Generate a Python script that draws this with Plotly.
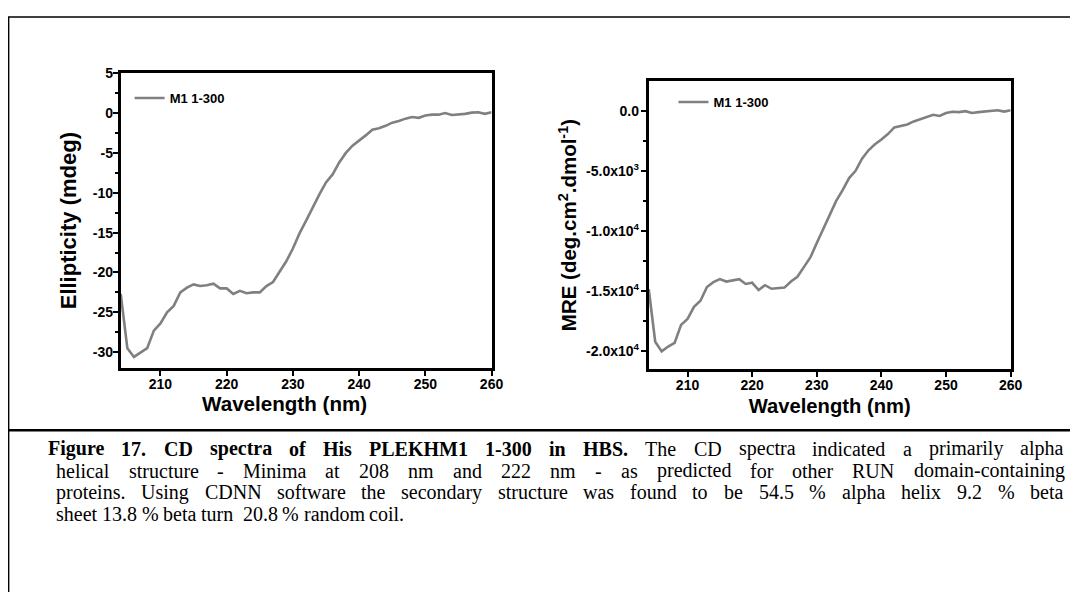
import plotly.graph_objects as go

# page body has an 8px default margin: lay the figure out in window coordinates
W, H = 1082, 592
OFF = 8
FW, FH = W - OFF, H - OFF

wavelength = list(range(204, 261))
ellipticity = [-22.7, -29.5, -30.6, -30.0, -29.5, -27.3, -26.4, -25.0, -24.2, -22.5,
               -21.9, -21.5, -21.7, -21.6, -21.4, -22.0, -22.0, -22.7, -22.3, -22.6,
               -22.5, -22.5, -21.7, -21.2, -19.9, -18.6, -17.0, -15.1, -13.5, -11.8,
               -10.2, -8.7, -7.7, -6.2, -5.0, -4.1, -3.5, -2.8, -2.1, -1.9,
               -1.6, -1.2, -1.0, -0.7, -0.5, -0.6, -0.3, -0.2, -0.2, 0.0,
               -0.25, -0.2, -0.1, 0.05, 0.1, -0.1, 0.1]
mre = [-14840, -19200, -20000, -19600, -19300, -17800, -17300, -16300, -15800, -14650,
       -14250, -14000, -14200, -14100, -14000, -14400, -14300, -14900, -14500, -14800,
       -14750, -14700, -14200, -13800, -13000, -12200, -11000, -9800, -8600, -7500,
       -6600, -5600, -5000, -4000, -3300, -2800, -2400, -1950, -1400, -1300,
       -1150, -900, -730, -500, -350, -450, -200, -100, -130, -50,
       -200, -130, -80, -30, 30, -80, 30]

series_name = "M1 1-300"
x_ticks = [210, 220, 230, 240, 250, 260]
ell_ticks = [5, 0, -5, -10, -15, -20, -25, -30]
ell_ticktext = ["5", "0", "-5", "-10", "-15", "-20", "-25", "-30"]
mre_ticks = [0, -5000, -10000, -15000, -20000]
mre_ticktext = ["0.0", "-5.0x10<sup>3</sup>", "-1.0x10<sup>4</sup>",
                "-1.5x10<sup>4</sup>", "-2.0x10<sup>4</sup>"]
x_title = "Wavelength (nm)"

caption_bold = "Figure 17. CD spectra of His PLEKHM1 1-300 in HBS."
caption_lines = [
    "The CD spectra indicated a primarily alpha",
    "helical structure - Minima at 208 nm and 222 nm - as predicted for other RUN domain-containing",
    "proteins. Using CDNN software the secondary structure was found to be 54.5 % alpha helix 9.2 % beta",
    "sheet 13.8 % beta turn  20.8 % random coil.",
]


def px(x):
    return (x - OFF) / FW


def py(y):
    return 1 - (y - OFF) / FH


LINE = "#808080"
SANS = "Liberation Sans, Arial, sans-serif"
SERIF = "Liberation Serif, Times New Roman, serif"

# Times (Liberation Serif) advance widths, 1/1000 em
REG = dict(zip("ABCDEFGHIJKLMNOPQRSTUVWXYZ",
               [722, 667, 667, 722, 611, 556, 722, 722, 333, 389, 722, 611, 889, 722, 722, 556,
                722, 667, 556, 611, 722, 722, 944, 722, 722, 611]))
REG.update(zip("abcdefghijklmnopqrstuvwxyz",
               [444, 500, 444, 500, 444, 333, 500, 500, 278, 278, 500, 278, 778, 500, 500, 500,
                500, 333, 389, 278, 500, 500, 722, 500, 500, 444]))
REG.update({" ": 250, "%": 833, "-": 333, ".": 250, ",": 250, "(": 333, ")": 333})
REG.update({d: 500 for d in "0123456789"})
BLD = dict(zip("ABCDEFGHIJKLMNOPQRSTUVWXYZ",
               [722, 667, 722, 722, 667, 611, 778, 778, 389, 500, 778, 667, 944, 722, 778, 611,
                778, 722, 556, 667, 722, 722, 1000, 722, 722, 667]))
BLD.update(zip("abcdefghijklmnopqrstuvwxyz",
               [500, 556, 444, 556, 444, 333, 500, 556, 278, 333, 556, 278, 833, 556, 500, 556,
                556, 444, 389, 333, 556, 500, 722, 500, 500, 444]))
BLD.update({" ": 250, "%": 1000, "-": 333, ".": 250, ",": 250})
BLD.update({d: 500 for d in "0123456789"})


def text_w(s, bold, size):
    tbl = BLD if bold else REG
    return sum(tbl.get(c, 500) for c in s) * size / 1000.0


fig = go.Figure()
fig.add_trace(go.Scatter(x=wavelength, y=ellipticity, mode="lines", name=series_name,
                         line=dict(color=LINE, width=2.6), xaxis="x", yaxis="y",
                         legend="legend"))
fig.add_trace(go.Scatter(x=wavelength, y=mre, mode="lines", name=series_name,
                         line=dict(color=LINE, width=2.6), xaxis="x2", yaxis="y2",
                         legend="legend2"))

axis_common = dict(showline=True, linecolor="black", linewidth=2.8, mirror=True,
                   ticks="outside", ticklen=5, tickwidth=2, tickcolor="black",
                   showgrid=False, zeroline=False,
                   tickfont=dict(family=SANS, size=14, color="black", weight="bold"))

fig.update_layout(
    width=FW, height=FH, margin=dict(l=0, r=0, t=0, b=0),
    paper_bgcolor="white", plot_bgcolor="white",
    xaxis=dict(domain=[px(122), px(497)], range=[204, 260], tickvals=x_ticks,
               ticklabelstandoff=-4, anchor="y", **axis_common),
    yaxis=dict(domain=[py(365), py(66)], range=[-32, 5], tickvals=ell_ticks,
               ticktext=ell_ticktext, ticklabelstandoff=-3,
               title=dict(text="<b>Ellipticity (mdeg)</b>", standoff=11,
                          font=dict(family=SANS, size=22, color="black")),
               minor=dict(ticks="outside", ticklen=3, tickwidth=1.5, tickcolor="black", dtick=2.5),
               anchor="x", **axis_common),
    xaxis2=dict(domain=[px(656), px(1022)], range=[204, 260], tickvals=x_ticks,
                ticklabelstandoff=-4,
                title=dict(text=f"<b>{x_title}</b>", standoff=8,
                           font=dict(family=SANS, size=20.2, color="black")),
                anchor="y2", **axis_common),
    yaxis2=dict(domain=[py(366), py(74)], range=[-21470, 2450], tickvals=mre_ticks,
                ticktext=mre_ticktext, ticklabelstandoff=-1,
                title=dict(text="<b>MRE (deg.cm<sup>2</sup>.dmol<sup>-1</sup>)</b>", standoff=4,
                           font=dict(family=SANS, size=20.5, color="black")),
                minor=dict(ticks="outside", ticklen=3, tickwidth=1.5, tickcolor="black", dtick=2500),
                anchor="x2", **axis_common),
    legend=dict(x=px(131), y=py(76), xanchor="left", yanchor="top", bgcolor="rgba(0,0,0,0)",
                font=dict(family=SANS, size=13, color="black", weight="bold"),
                itemwidth=30, tracegroupgap=0),
    legend2=dict(x=px(681), y=py(80), xanchor="left", yanchor="top", bgcolor="rgba(0,0,0,0)",
                 font=dict(family=SANS, size=13, color="black", weight="bold"),
                 itemwidth=30, tracegroupgap=0),
    showlegend=True,
)

# left x-axis title sits a little left of the panel centre in the original
fig.add_annotation(text=f"<b>{x_title}</b>", xref="paper", yref="paper",
                   x=px(288), y=py(401), xanchor="center", yanchor="middle", showarrow=False,
                   font=dict(family=SANS, size=20.6, color="black"))

# figure frame
fig.add_shape(type="line", xref="paper", yref="paper", x0=0, x1=1, y0=py(9), y1=py(9),
              line=dict(color="black", width=1.5))
fig.add_shape(type="line", xref="paper", yref="paper", x0=0.0006, x1=0.0006, y0=py(9), y1=0,
              line=dict(color="black", width=1.5))
fig.add_shape(type="line", xref="paper", yref="paper", x0=0, x1=1, y0=py(428), y1=py(428),
              line=dict(color="black", width=2.5))

# justified caption, word by word
CAP_SIZE = 20
cap_y = [447, 469, 491, 513]
cap_x0 = [46, 55, 55, 55]
cap_x1 = 1073

line_words = []
line_words.append([(w, True) for w in caption_bold.split()] +
                  [(w, False) for w in caption_lines[0].split()])
for t in caption_lines[1:]:
    line_words.append([(w, False) for w in t.split()])

for i, words in enumerate(line_words):
    widths = [text_w(w, b, CAP_SIZE) for w, b in words]
    if i < len(line_words) - 1 and len(words) > 1:
        gap = (cap_x1 - cap_x0[i] - sum(widths)) / (len(words) - 1)
    else:
        gap = text_w(" ", False, CAP_SIZE)
    x = cap_x0[i]
    for (w, b), wd in zip(words, widths):
        fig.add_annotation(text=f"<b>{w}</b>" if b else w, xref="paper", yref="paper",
                           x=px(x), y=py(cap_y[i]), xanchor="left", yanchor="middle",
                           showarrow=False,
                           font=dict(family=SERIF, size=CAP_SIZE, color="black"))
        x += wd + gap
        if w == "turn":
            x += text_w(" ", False, CAP_SIZE)

fig.write_html("out.html")
